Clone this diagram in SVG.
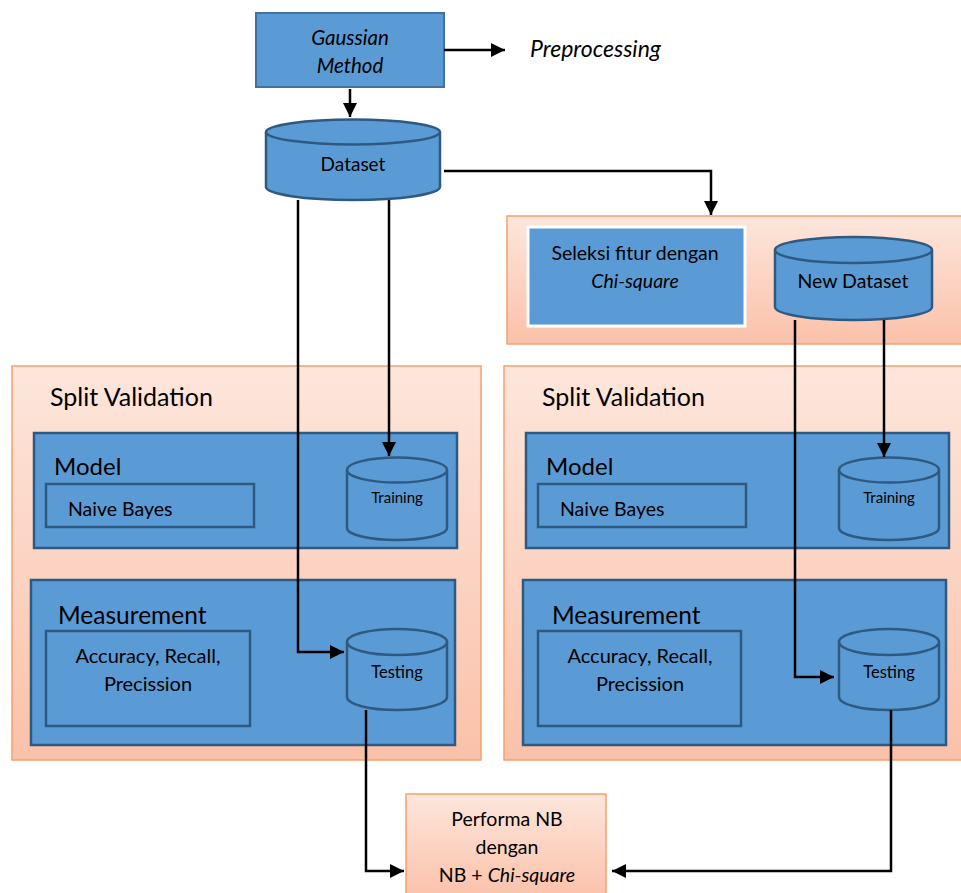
<svg xmlns="http://www.w3.org/2000/svg" width="961" height="893" viewBox="0 0 961 893">
<defs>
<linearGradient id="og" x1="0" y1="0" x2="0" y2="1">
<stop offset="0" stop-color="#FDE6DC"/>
<stop offset="1" stop-color="#FBC1A9"/>
</linearGradient>
<marker id="ah" viewBox="0 0 10 10" refX="10" refY="5" markerWidth="14" markerHeight="14" markerUnits="userSpaceOnUse" orient="auto">
<path d="M0,0 L10,5 L0,10 z" fill="#000"/>
</marker>
</defs>
<style>
text{font-family:Lato,"Open Sans","Liberation Sans",sans-serif;fill:#000}
.blue{fill:#5B9BD5;stroke:#41719C;stroke-width:2}
.inner{fill:#5B9BD5;stroke:#2E5A82;stroke-width:2.5}
.orange{fill:url(#og);stroke:#F4A16F;stroke-width:1.5}
.cyl{fill:#5B9BD5;stroke:#2E5A82;stroke-width:2.5}
.ln{fill:none;stroke:#000;stroke-width:2.5}
.c{text-anchor:middle}
.i{font-style:italic}
</style>
<rect width="961" height="893" fill="#fff"/>

<g id="gaussian">
<rect class="blue" x="256" y="13" width="188" height="74"/>
<text class="c i" x="350" y="45" font-size="20.5">Gaussian</text>
<text class="c i" x="350" y="73" font-size="20.5">Method</text>
</g>
<g id="preprocessing">
<text class="i" x="530" y="57" font-size="23">Preprocessing</text>
</g>
<g id="dataset">
<path class="cyl" d="M266,132 L266,187 A87,13 0 0 0 440,187 L440,132"/>
<ellipse class="cyl" cx="353" cy="132" rx="87" ry="12.5"/>
<text class="c" x="353" y="171" font-size="19">Dataset</text>
</g>

<g id="feature-selection-group">
<rect class="orange" x="507" y="216" width="460" height="128"/>
</g>
<g id="seleksi">
<rect x="528" y="227" width="217" height="99" fill="#5B9BD5" stroke="#fff" stroke-width="3"/>
<text class="c" x="635" y="260" font-size="19.5">Seleksi fitur dengan</text>
<text class="c i" x="635" y="288" font-size="19.5">Chi-square</text>
</g>
<g id="new-dataset">
<path class="cyl" d="M775,250 L775,307 A78.5,13 0 0 0 932,307 L932,250"/>
<ellipse class="cyl" cx="853.5" cy="250" rx="78.5" ry="13"/>
<text class="c" x="853" y="288" font-size="19.5">New Dataset</text>
</g>

<g id="split-left">
<rect class="orange" x="12" y="366" width="469" height="394"/>
<text x="50" y="406" font-size="25">Split Validation</text>
</g>
<g id="model-left">
<rect class="inner" x="34" y="433" width="423" height="115"/>
<text x="54" y="475" font-size="24">Model</text>
<rect class="inner" x="46" y="484" width="208" height="43"/>
<text x="68" y="516" font-size="19.5">Naive Bayes</text>
</g>
<g id="training-left">
<path class="cyl" d="M347,470 L347,528 A50,12 0 0 0 447,528 L447,470"/>
<ellipse class="cyl" cx="397" cy="470" rx="50" ry="12.5"/>
<text class="c" x="397" y="503" font-size="15">Training</text>
</g>
<g id="measurement-left">
<rect class="inner" x="31" y="580" width="424" height="165"/>
<text x="58" y="624" font-size="24.5">Measurement</text>
<rect class="inner" x="46" y="631" width="204" height="95"/>
<text class="c" x="148" y="663" font-size="20">Accuracy, Recall,</text>
<text class="c" x="148" y="691" font-size="20">Precission</text>
</g>
<g id="testing-left">
<path class="cyl" d="M347,642 L347,697 A50,13 0 0 0 447,697 L447,642"/>
<ellipse class="cyl" cx="397" cy="642" rx="50" ry="13"/>
<text class="c" x="397" y="678" font-size="16.5">Testing</text>
</g>

<g id="split-right">
<rect class="orange" x="504" y="366" width="463" height="394"/>
<text x="542" y="406" font-size="25">Split Validation</text>
</g>
<g id="model-right">
<rect class="inner" x="526" y="433" width="423" height="115"/>
<text x="546" y="475" font-size="24">Model</text>
<rect class="inner" x="538" y="484" width="208" height="43"/>
<text x="560" y="516" font-size="19.5">Naive Bayes</text>
</g>
<g id="training-right">
<path class="cyl" d="M839,470 L839,528 A50,12 0 0 0 939,528 L939,470"/>
<ellipse class="cyl" cx="889" cy="470" rx="50" ry="12.5"/>
<text class="c" x="889" y="503" font-size="15">Training</text>
</g>
<g id="measurement-right">
<rect class="inner" x="523" y="580" width="423" height="165"/>
<text x="552" y="624" font-size="24.5">Measurement</text>
<rect class="inner" x="538" y="631" width="203" height="95"/>
<text class="c" x="640" y="663" font-size="20">Accuracy, Recall,</text>
<text class="c" x="640" y="691" font-size="20">Precission</text>
</g>
<g id="testing-right">
<path class="cyl" d="M839,642 L839,697 A50,13 0 0 0 939,697 L939,642"/>
<ellipse class="cyl" cx="889" cy="642" rx="50" ry="13"/>
<text class="c" x="889" y="678" font-size="16.5">Testing</text>
</g>

<g id="performa">
<rect class="orange" x="406" y="794" width="200" height="105"/>
<text class="c" x="507" y="826" font-size="19.5">Performa NB</text>
<text class="c" x="507" y="854" font-size="19.5">dengan</text>
<text class="c" x="507" y="882" font-size="19.5">NB + <tspan class="i">Chi-square</tspan></text>
</g>

<g id="connectors">
<path class="ln" d="M444,50 L505,50" marker-end="url(#ah)"/>
<path class="ln" d="M350,89 L350,117" marker-end="url(#ah)"/>
<path class="ln" d="M444,171 L711,171 L711,215" marker-end="url(#ah)"/>
<path class="ln" d="M298,200 L298,652 L344,652" marker-end="url(#ah)"/>
<path class="ln" d="M389,200 L389,456" marker-end="url(#ah)"/>
<path class="ln" d="M366,710 L366,871 L404,871" marker-end="url(#ah)"/>
<path class="ln" d="M795,320 L795,677 L834,677" marker-end="url(#ah)"/>
<path class="ln" d="M884,320 L884,457" marker-end="url(#ah)"/>
<path class="ln" d="M891,710 L891,871 L612,871" marker-end="url(#ah)"/>
</g>
</svg>
